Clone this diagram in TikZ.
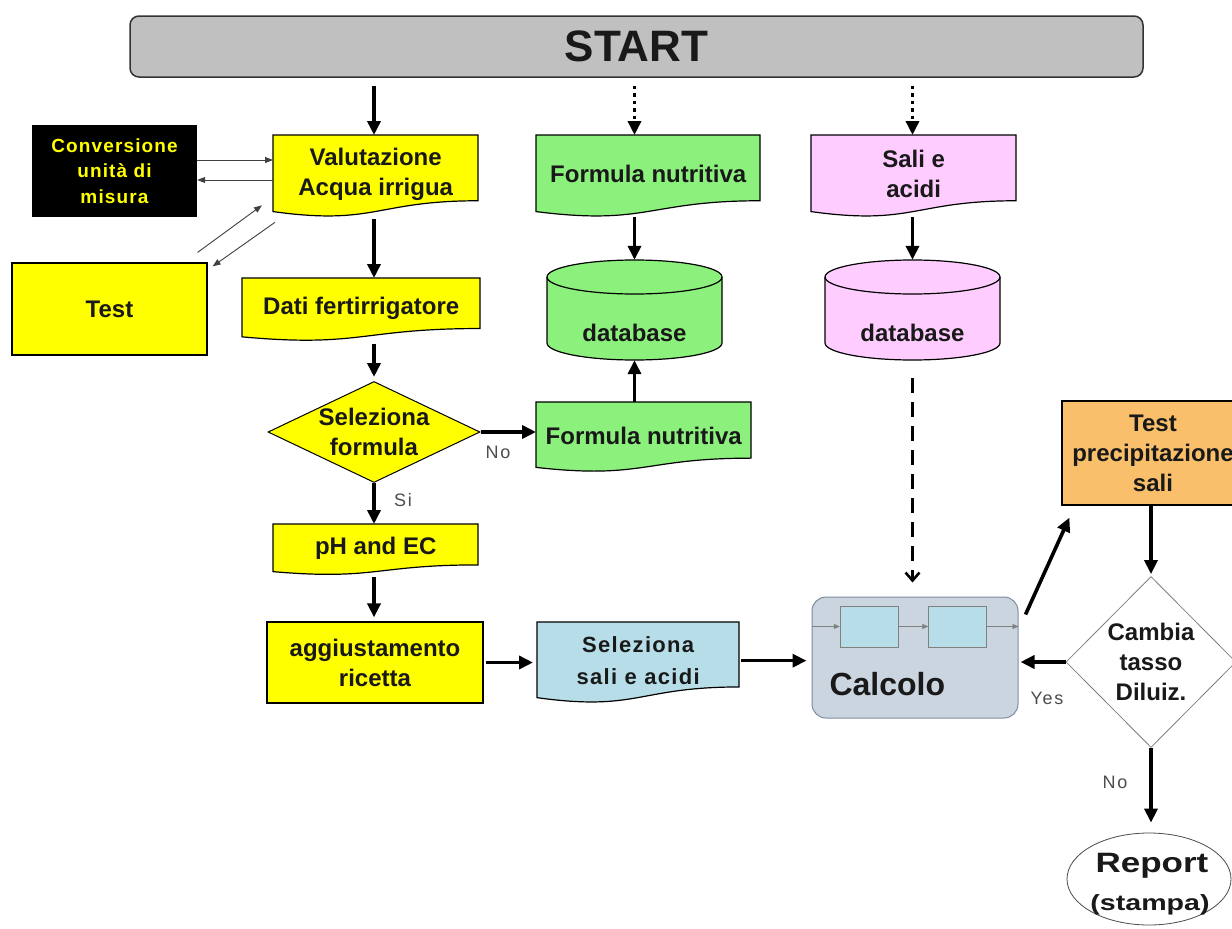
\documentclass[tikz,border=0pt]{standalone}
\usepackage{fontspec}
\setmainfont{Liberation Sans}
\usetikzlibrary{arrows.meta,shapes.geometric}
\definecolor{yel}{HTML}{FFFF00}
\definecolor{grn}{HTML}{8CF07C}
\definecolor{pnk}{HTML}{FFCCFF}
\definecolor{lblue}{HTML}{B7DEE8}
\definecolor{calcf}{HTML}{CBD5E0}
\definecolor{calcb}{HTML}{7F8C9F}
\definecolor{org}{HTML}{F9BF6A}
\definecolor{startg}{HTML}{C0C0C0}

\tikzset{
 docline/.style={draw=black, line width=1.2pt},
 boxtext/.style={font=\bfseries\fontsize{24}{30}\selectfont, align=center, text=black!90},
 arr/.style={line width=3.6pt, -{Triangle[length=14pt,width=13pt]}},
 dotarr/.style={arr, dash pattern=on 3.5pt off 4pt},
 thinarr/.style={line width=0.9pt, draw=black!75, -{Triangle[length=8pt,width=6pt]}},
 dasharr/.style={line width=2.6pt, dash pattern=on 15pt off 9pt, -{Straight Barb[length=8pt,width=14pt]}},
 lbl/.style={font=\fontsize{18}{20}\selectfont\addfontfeature{LetterSpace=10}, text=black!70},
 inarr/.style={line width=0.8pt, draw=gray, -{Triangle[length=6pt,width=5pt]}},
}

% name, x1, y1, x2, H, fill, extra options, text
\newcommand{\docbox}[8]{%
  \draw[docline, fill=#6] ({#2},{#3}) -- ({#4},{#3}) -- ({#4},{#3+0.802*#5})
    .. controls ({(#2+#4)/2},{#3+0.802*#5}) and ({(#2+#4)/2},{#3+1.107*#5}) .. ({#2},{#3+0.934*#5}) -- cycle;
  \node[anchor=north west, minimum width={(#4-#2)*1pt}, minimum height={0.95*#5*1pt}, inner sep=0pt, boxtext, #7] (#1) at ({#2},{#3}) {#8};
}
% name, x1, x2, ytop, ybot, fill
\newcommand{\dbcyl}[6]{%
  \draw[docline, fill=#6] ({#2},{#4+17}) -- ({#2},{#5-17})
    arc[start angle=180, end angle=360, x radius={(#3-#2)/2*1pt}, y radius=17pt]
    -- ({#3},{#4+17})
    arc[start angle=0, end angle=180, x radius={(#3-#2)/2*1pt}, y radius=17pt] -- cycle;
  \draw[docline] ({#2},{#4+17}) arc[start angle=180, end angle=360, x radius={(#3-#2)/2*1pt}, y radius=17pt];
  \node[inner sep=0pt, minimum width={(#3-#2)*1pt}, minimum height={(#5-#4)*1pt}] (#1) at ({(#2+#3)/2},{(#4+#5)/2}) {};
}

\begin{document}
\begin{tikzpicture}[x=1pt,y=-1pt]
\clip (0,0) rectangle (1232,929);
\fill[white] (0,0) rectangle (1232,929);

% START
\node[draw=black!80, line width=1.5pt, fill=startg, rounded corners=9pt, minimum width=1013pt, minimum height=61pt, inner sep=0pt, font=\bfseries\fontsize{44}{48}\selectfont, text=black!90] (start) at (636.5,46.5) {START};

% left column
\node[fill=black, minimum width=165pt, minimum height=92pt, inner sep=0pt, text=yel, align=center, font=\bfseries\fontsize{19}{25.5}\selectfont\addfontfeature{LetterSpace=6}] (conv) at (114.5,171) {Conversione\\unità di\\misura};
\node[fill=yel, draw=black, line width=1.2pt, minimum width=195pt, minimum height=92pt, inner sep=0pt, boxtext] (test) at (109.5,309) {Test};

\docbox{val}{273}{135}{478}{82}{yel}{}{Valutazione\\Acqua irrigua}
\docbox{dati}{242}{278}{480}{63}{yel}{}{Dati fertirrigatore}
\docbox{fn1}{536}{135}{760}{82}{grn}{}{Formula nutritiva}
\docbox{sa}{811}{135}{1016}{82}{pnk}{}{Sali e\\acidi}
\docbox{fn2}{536}{402}{751}{70}{grn}{}{Formula nutritiva}
\docbox{ph}{273}{524}{478}{51}{yel}{}{pH and EC}
\docbox{ss}{537}{622}{739}{81}{lblue}{font=\bfseries\fontsize{22}{32}\selectfont\addfontfeature{LetterSpace=6}}{Seleziona\\sali e acidi}

\dbcyl{db1}{547}{722}{260}{360}{grn}
\node[boxtext] (db1t) at (634.5,333) {database};
\dbcyl{db2}{825}{1000}{260}{360}{pnk}
\node[boxtext] (db2t) at (912.5,333) {database};

\node[diamond, draw=black, line width=1pt, fill=yel, minimum width=212pt, minimum height=101pt, inner sep=0pt] (sel) at (374,432) {};
\node[boxtext] (selt) at (374,432) {Seleziona\\formula};

\node[fill=yel, draw=black, line width=1.2pt, minimum width=216pt, minimum height=81pt, inner sep=0pt, boxtext] (agg) at (375,662.5) {aggiustamento\\ricetta};

% Calcolo
\node[draw=calcb, line width=1pt, fill=calcf, rounded corners=14pt, minimum width=206pt, minimum height=121pt, inner sep=0pt] (calc) at (915,657.5) {};
\node[draw=gray, fill=lblue, minimum width=58pt, minimum height=41pt, inner sep=0pt] (c1) at (869,626.5) {};
\node[draw=gray, fill=lblue, minimum width=58pt, minimum height=41pt, inner sep=0pt] (c2) at (957.5,626.5) {};
\node[anchor=west, font=\bfseries\fontsize{32}{36}\selectfont, text=black!90] (calct) at (826,684) {Calcolo};
\draw[inarr] (calc.west |- c1) -- (c1.west);
\draw[inarr] (c1.east) -- (c2.west);
\draw[inarr] (c2.east) -- (calc.east |- c2);

% right column
\node[fill=org, draw=black, line width=1.2pt, minimum width=183pt, minimum height=104pt, inner sep=0pt] (tp) at (1153.5,453) {};
\node[boxtext] (tpt) at (1153,453) {Test\\precipitazione\\sali};
\node[diamond, draw=gray, line width=0.8pt, fill=white, minimum width=170pt, minimum height=171pt, inner sep=0pt] (cam) at (1151,662) {};
\node[boxtext] (camt) at (1151,662) {Cambia\\tasso\\Diluiz.};
\node[ellipse, draw=black!70, line width=0.8pt, fill=white, minimum width=164pt, minimum height=92pt, inner sep=0pt] (rep) at (1149,879) {};
\node[font=\bfseries\fontsize{28}{30}\selectfont\addfontfeature{FakeStretch=1.25}, text=black!90] (rept) at (1152,866) {Report};
\node[font=\bfseries\fontsize{22}{24}\selectfont\addfontfeature{FakeStretch=1.3}, text=black!90] (reps) at (1150,905) {(stampa)};

% connectors
\draw[arr, shorten <=8pt] (sel |- start.south) -- (sel |- val.north);
\draw[dotarr, shorten <=8pt] (db1 |- start.south) -- (db1 |- fn1.north);
\draw[dotarr, shorten <=8pt] (db2 |- start.south) -- (db2 |- sa.north);
\draw[arr, shorten <=6pt] (sel |- val.south) -- (sel |- dati.north);
\draw[arr, shorten <=6pt, shorten >=4pt] (sel |- dati.south) -- (sel.north);
\draw[arr, shorten <=4pt] (db1 |- fn1.south) -- (db1.north);
\draw[arr] (db1 |- fn2.north) -- (db1.south);
\draw[arr, shorten <=4pt] (db2 |- sa.south) -- (db2.north);
\draw[dasharr, shorten <=18pt, shorten >=14pt] (db2.south) -- (db2 |- calc.north);
\draw[arr] (sel.east) -- (sel.east -| fn2.west);
\draw[arr] (sel.south) -- (sel.south |- ph.north);
\draw[arr, shorten <=4pt, shorten >=4pt] (sel |- ph.south) -- (sel |- agg.north);
\draw[arr, shorten <=2pt, shorten >=4pt] (agg.east) -- (agg.east -| ss.west);
\draw[arr, shorten <=2pt, shorten >=5pt] (ss.east) -- (ss.east -| calc.west);
\draw[arr, shorten >=2pt] (cam.west) -- (cam.west -| calc.east);
\draw[arr] ([shift={(7,18)}]calc.north east) -- ([shift={(8,12)}]tp.south west);
\draw[arr, shorten >=2pt] (cam |- tp.south) -- (cam.north);
\draw[arr, shorten >=10pt] (cam.south) -- (cam.south |- rep.north);

\coordinate (ca) at ([yshift=11pt]conv.east);
\coordinate (cb) at ([yshift=-9pt]conv.east);
\draw[thinarr] (ca) -- (ca -| val.west);
\draw[thinarr] (cb -| val.west) -- (cb);
\draw[thinarr] ([shift={(-10,-10)}]test.north east) -- ([shift={(-11,-8)}]val.south west);
\draw[thinarr] ([shift={(2,9)}]val.south west) -- ([shift={(5,4)}]test.north east);

% labels
\node[lbl] (lno1) at (498,452) {No};
\node[lbl] (lsi) at (403,500) {Si};
\node[lbl] (lyes) at (1047,698) {Yes};
\node[lbl] (lno2) at (1115,782) {No};
\end{tikzpicture}
\end{document}
